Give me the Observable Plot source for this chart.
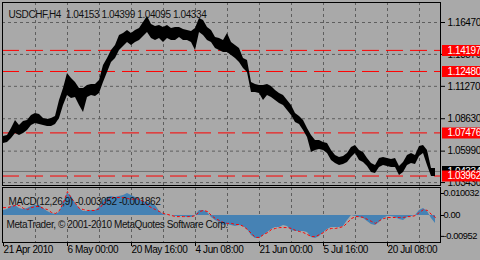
<!DOCTYPE html>
<html><head><meta charset="utf-8">
<script src="https://cdn.jsdelivr.net/npm/d3@7"></script>
<script src="https://cdn.jsdelivr.net/npm/@observablehq/plot@0.6"></script>
<style>
html,body{margin:0;padding:0;background:#a9a9a9;}
#wrap{position:relative;width:480px;height:260px;background:#a9a9a9;overflow:hidden;}
#wrap svg{position:absolute;left:0;display:block;}
#wrap svg text{letter-spacing:-0.4px;white-space:pre;}
</style></head><body><div id="wrap"></div>
<script>
// ---- texts ----
const symbolTitle = "USDCHF,H4  1.04153 1.04399 1.04095 1.04334";
const macdTitle = "MACD(12,26,9) -0.003052 -0.001862";
const copyright = "MetaTrader, \u00a9 2001-2010 MetaQuotes Software Corp.";

// ---- price series (H4 bars, sampled every 4 bars): highs and lows ----
const hi = [1.0718,1.0726,1.0783,1.0848,1.0808,1.0840,1.0848,1.0889,1.0905,1.0897,
 1.0865,1.0857,1.0865,1.0881,1.1011,1.1109,1.1231,1.1191,1.1158,1.1109,
 1.1109,1.1134,1.1142,1.1142,1.1174,1.1297,1.1354,1.1419,1.1460,1.1541,
 1.1557,1.1582,1.1557,1.1582,1.1598,1.1647,1.1696,1.1631,1.1614,1.1623,
 1.1606,1.1623,1.1598,1.1606,1.1606,1.1590,1.1582,1.1574,1.1598,1.1680,
 1.1663,1.1606,1.1582,1.1525,1.1517,1.1500,1.1557,1.1484,1.1460,1.1435,
 1.1354,1.1337,1.1158,1.1142,1.1134,1.1134,1.1142,1.1125,1.1093,1.1068,
 1.1052,1.1011,1.0971,1.0905,1.0881,1.0848,1.0783,1.0726,1.0685,1.0685,
 1.0669,1.0661,1.0604,1.0563,1.0547,1.0555,1.0579,1.0628,1.0645,1.0604,
 1.0588,1.0539,1.0498,1.0482,1.0539,1.0547,1.0539,1.0531,1.0539,1.0473,
 1.0506,1.0563,1.0579,1.0563,1.0636,1.0645,1.0604,1.0457,1.0457];
const lo = [1.0661,1.0669,1.0702,1.0742,1.0726,1.0742,1.0767,1.0808,1.0824,1.0816,
 1.0808,1.0799,1.0799,1.0816,1.0865,1.0971,1.1052,1.1028,1.1036,1.0971,
 1.0914,1.1036,1.1052,1.1044,1.1068,1.1158,1.1240,1.1321,1.1354,1.1419,
 1.1451,1.1484,1.1460,1.1484,1.1500,1.1533,1.1566,1.1517,1.1500,1.1517,
 1.1484,1.1517,1.1500,1.1500,1.1525,1.1500,1.1500,1.1484,1.1419,1.1566,
 1.1541,1.1500,1.1484,1.1435,1.1419,1.1403,1.1403,1.1378,1.1354,1.1321,
 1.1272,1.1240,1.1077,1.1077,1.1068,1.1011,1.1052,1.1036,1.1011,1.0987,
 1.0971,1.0930,1.0889,1.0832,1.0816,1.0767,1.0710,1.0588,1.0604,1.0612,
 1.0604,1.0579,1.0522,1.0498,1.0482,1.0490,1.0506,1.0547,1.0579,1.0522,
 1.0506,1.0473,1.0425,1.0416,1.0465,1.0482,1.0473,1.0465,1.0465,1.0400,
 1.0425,1.0482,1.0498,1.0490,1.0555,1.0579,1.0482,1.0392,1.0392];

// ---- MACD main (histogram) and signal ----
const macdMain = [0.0023,0.0027,0.0041,0.0046,0.0032,0.0027,0.0032,0.0041,0.0046,0.0046,
 0.0032,0.0018,0.0009,0.0005,0.0014,0.0059,0.0100,0.0087,0.0055,0.0032,
 0.0018,0.0018,0.0023,0.0023,0.0036,0.0068,0.0082,0.0087,0.0082,0.0087,
 0.0091,0.0100,0.0091,0.0082,0.0073,0.0064,0.0059,0.0055,0.0046,0.0018,
 0.0005,0,0,-0.0005,-0.0005,-0.0005,-0.0009,-0.0009,0,0.0023,
 0.0023,0.0014,-0.0009,-0.0023,-0.0032,-0.0046,-0.0041,-0.0046,-0.0050,-0.0046,
 -0.0050,-0.0064,-0.0091,-0.0105,-0.0105,-0.0091,-0.0078,-0.0064,-0.0055,-0.0055,
 -0.0046,-0.0050,-0.0068,-0.0073,-0.0073,-0.0073,-0.0078,-0.0100,-0.0105,-0.0096,
 -0.0078,-0.0064,-0.0055,-0.0055,-0.0055,-0.0050,-0.0023,0,-0.0005,-0.0009,
 -0.0014,-0.0027,-0.0041,-0.0046,-0.0032,-0.0014,-0.0005,-0.0005,-0.0009,-0.0018,
 -0.0023,-0.0009,-0.0005,0,0.0023,0.0032,0.0018,-0.0014,-0.0036];
const macdSignal = [0.0036,0.0036,0.0041,0.0046,0.0046,0.0032,0.0027,0.0036,0.0041,0.0041,
 0.0032,0.0027,0.0014,0.0009,0.0023,0.0059,0.0109,0.0078,0.0055,0.0032,
 0.0027,0.0023,0.0023,0.0023,0.0032,0.0055,0.0068,0.0082,0.0082,0.0082,
 0.0082,0.0078,0.0073,0.0078,0.0073,0.0064,0.0046,0.0036,0.0027,0.0018,
 0.0009,0.0005,0,-0.0005,-0.0005,-0.0005,-0.0005,-0.0005,0,0.0018,
 0.0023,0.0018,0,-0.0014,-0.0023,-0.0032,-0.0036,-0.0036,-0.0041,-0.0041,
 -0.0050,-0.0064,-0.0082,-0.0100,-0.0100,-0.0087,-0.0078,-0.0064,-0.0059,-0.0055,
 -0.0055,-0.0055,-0.0059,-0.0068,-0.0073,-0.0078,-0.0087,-0.0096,-0.0096,-0.0087,
 -0.0078,-0.0064,-0.0059,-0.0059,-0.0055,-0.0050,-0.0032,-0.0014,-0.0005,-0.0005,
 -0.0009,-0.0018,-0.0027,-0.0036,-0.0023,-0.0014,-0.0009,-0.0009,-0.0009,-0.0009,
 -0.0009,-0.0005,-0.0005,0,0.0014,0.0027,0.0023,0.0005,-0.0009];

// ---- levels and ticks ----
const levelValues = [1.14197, 1.12480, 1.07476, 1.03962];
const currentPrice = 1.04334;
const priceTicks = [1.16470, 1.13870, 1.11270, 1.08630, 1.05990, 1.03430];
const macdTicks = [0.010032, 0, -0.00952];
const macdTickLabels = ["0.010032", "0.00", "-0.00952"];
const timeTickBars = [0, 64, 128, 192, 256, 320, 384];
const timeTickLabels = ["21 Apr 2010","6 May 00:00","20 May 16:00","4 Jun 08:00","21 Jun 00:00","5 Jul 16:00","20 Jul 08:00"];
const gridBars = [32,64,96,128,160,192,224,256,288,320,352,384,416];

// ---- build ----
const bars = hi.map((_, i) => i * 4);
const priceData = bars.map((b, i) => ({bar: b, hi: hi[i], lo: lo[i]}));
const macdData = bars.map((b, i) => ({bar: b, macd: macdMain[i], signal: macdSignal[i]}));

const baseStyle = {background: "transparent", fontFamily: "'Liberation Sans', Arial, sans-serif", fontSize: "10px", color: "#000", overflow: "visible"};
const gridStyle = {stroke: "#5e5e5e", strokeOpacity: 1, strokeDasharray: "3,3"};

const main = Plot.plot({
  width: 480, height: 186,
  marginTop: 2, marginBottom: 1, marginLeft: 2, marginRight: 40,
  style: baseStyle,
  x: {domain: [-1, 437], axis: null},
  y: {domain: [1.0319, 1.1810], axis: "right", ticks: priceTicks, tickFormat: () => "", tickSize: 4, label: null},
  marks: [
    Plot.ruleX(gridBars, gridStyle),
    Plot.ruleY(priceTicks, gridStyle),
    Plot.ruleY(levelValues, {stroke: "#ff0000", strokeDasharray: "17,7"}),
    Plot.ruleY([currentPrice], {stroke: "#707070"}),
    Plot.areaY(priceData, {x: "bar", y1: "lo", y2: "hi", fill: "#000"}),
    Plot.frame({stroke: "#000"}),
    Plot.text(priceTicks, {y: d => d, text: d => d.toFixed(5), frameAnchor: "right", dx: 7, textAnchor: "start", fill: "#000"}),
    Plot.ruleY([currentPrice], {x1: 439, x2: 478, stroke: "#000", strokeWidth: 11}),
    Plot.text([currentPrice], {y: d => d, text: d => d.toFixed(5), frameAnchor: "right", dx: 7, textAnchor: "start", fill: "#fff"}),
    Plot.ruleY(levelValues, {x1: 439, x2: 478, stroke: "#ff0000", strokeWidth: 11}),
    Plot.text(levelValues, {y: d => d, text: d => d.toFixed(5), frameAnchor: "right", dx: 7, textAnchor: "start", fill: "#fff"}),
    Plot.text([symbolTitle], {frameAnchor: "top-left", dx: 6, dy: 8, textAnchor: "start", fill: "#111"})
  ]
});
main.style.top = "0px";

const macd = Plot.plot({
  width: 480, height: 74,
  marginTop: 1, marginBottom: 18, marginLeft: 2, marginRight: 40,
  style: baseStyle,
  x: {domain: [-1, 437], axis: "bottom", ticks: timeTickBars, tickFormat: () => "", tickSize: 4, label: null},
  y: {domain: [-0.01231, 0.01277], axis: "right", ticks: macdTicks, tickFormat: () => "", tickSize: 3, label: null},
  marks: [
    Plot.ruleX(gridBars, gridStyle),
    Plot.areaY(macdData, {x: "bar", y: "macd", fill: "#4682b4"}),
    Plot.line(macdData, {x: "bar", y: "signal", stroke: "#ff0000", strokeDasharray: "2,3", strokeWidth: 1}),
    Plot.frame({stroke: "#000"}),
    Plot.text(macdTicks, {y: d => d, text: (d, i) => macdTickLabels[i], frameAnchor: "right", dx: 3, textAnchor: "start", fill: "#000", fontSize: 9.3}),
    Plot.text([macdTitle], {frameAnchor: "top-left", dx: 6, dy: 10, textAnchor: "start", fill: "#111"}),
    Plot.text([copyright], {frameAnchor: "bottom-left", dx: 4, dy: -15, textAnchor: "start", fill: "#111"}),
    Plot.text(timeTickBars, {x: d => d, text: (d, i) => timeTickLabels[i], frameAnchor: "bottom", dy: 10, textAnchor: "start", fill: "#000"})
  ]
});
macd.style.top = "186px";

const wrap = document.getElementById("wrap");
wrap.appendChild(main);
wrap.appendChild(macd);
</script>
</body></html>
